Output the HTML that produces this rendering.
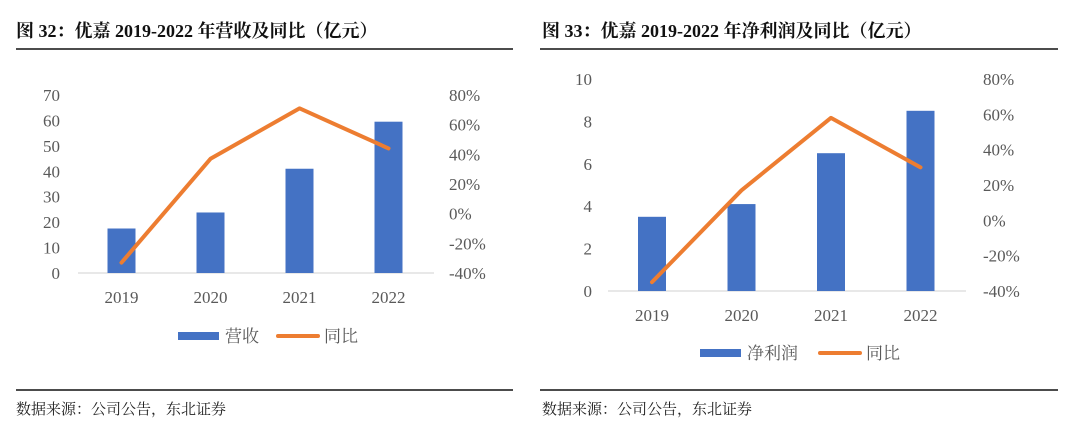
<!DOCTYPE html>
<html><head><meta charset="utf-8"><style>
body{margin:0;background:#fff;width:1080px;height:437px;overflow:hidden;font-family:"Liberation Serif","Noto Serif CJK SC",serif;}
svg text{font-family:"Liberation Serif","Noto Serif CJK SC",serif;}
</style></head><body>
<svg id="svg" width="1080" height="437" xmlns="http://www.w3.org/2000/svg">
<text x="16" y="37" font-size="18" font-weight="bold" fill="#111">图 32：优嘉 2019-2022 年营收及同比（亿元）</text>
<line x1="16" y1="49" x2="513" y2="49" stroke="#111" stroke-width="1.5"/>
<line x1="16" y1="390" x2="513" y2="390" stroke="#111" stroke-width="1.5"/>
<text x="16" y="414" font-size="15" fill="#222">数据来源：公司公告，东北证券</text>
<text x="542" y="37" font-size="18" font-weight="bold" fill="#111">图 33：优嘉 2019-2022 年净利润及同比（亿元）</text>
<line x1="540" y1="49" x2="1058" y2="49" stroke="#111" stroke-width="1.5"/>
<line x1="540" y1="390" x2="1058" y2="390" stroke="#111" stroke-width="1.5"/>
<text x="542" y="414" font-size="15" fill="#222">数据来源：公司公告，东北证券</text>
<g id="c1"></g>
<g id="c2"></g>
</svg>
<script>
const categories = ["2019","2020","2021","2022"];
const revenueValues = [17.5, 23.8, 41, 59.5];
const revenueYoy = [-33, 37, 71, 44];
const revenueTicks = [0,10,20,30,40,50,60,70];
const profitValues = [3.5, 4.1, 6.5, 8.5];
const profitYoy = [-35, 17, 58, 30];
const profitTicks = [0,2,4,6,8,10];
const pctTicks = [-40,-20,0,20,40,60,80];

const NS="http://www.w3.org/2000/svg";
function mk(parent,tag,attrs,txt){const e=document.createElementNS(NS,tag);for(const k in attrs)e.setAttribute(k,attrs[k]);if(txt!==undefined)e.textContent=txt;parent.appendChild(e);return e;}

function draw(g,cfg,vals,yoy,ticks,barName){
  const yMax=ticks[ticks.length-1];
  const y=v=>cfg.base-(v/yMax)*(cfg.base-cfg.top);
  const yp=p=>cfg.base-((p+40)/120)*(cfg.base-cfg.top);
  const x=i=>cfg.x0+i*cfg.step;
  let ax=mk(g,'line',{x1:cfg.axL,y1:cfg.base,x2:cfg.axR,y2:cfg.base,stroke:'#d9d9d9','stroke-width':1.2});
  
  ticks.forEach(t=>{const e=mk(g,'text',{x:cfg.lx,y:y(t)+6,'font-size':17,fill:'#595959','text-anchor':'end'},t);
    });
  pctTicks.forEach(t=>{const e=mk(g,'text',{x:cfg.rx,y:yp(t)+6,'font-size':17,fill:'#595959'},t+'%');
    });
  categories.forEach((c,i)=>{const e=mk(g,'text',{x:x(i),y:cfg.base+30,'font-size':17,fill:'#595959','text-anchor':'middle'},c);
    });
  vals.forEach((v,i)=>{const b=mk(g,'rect',{x:x(i)-14,y:y(v),width:28,height:cfg.base-y(v),fill:'#4472c4'});
    });
  const pts=yoy.map((p,i)=>x(i)+','+yp(p)).join(' ');
  const l=mk(g,'polyline',{points:pts,fill:'none',stroke:'#ed7d31','stroke-width':4,'stroke-linejoin':'round','stroke-linecap':'round'});
  
  const lr=mk(g,'rect',{x:cfg.lgx,y:cfg.lgy-4,width:41,height:8,fill:'#4472c4'});
  
  const lt=mk(g,'text',{x:cfg.lgx+47,y:cfg.lgy+6,'font-size':17,fill:'#595959'},barName);
  
  const lx2=cfg.lgx+cfg.lgGap;
  const ll=mk(g,'line',{x1:lx2,y1:cfg.lgy,x2:lx2+40,y2:cfg.lgy,stroke:'#ed7d31','stroke-width':4,'stroke-linecap':'round'});
  
  const lt2=mk(g,'text',{x:lx2+46,y:cfg.lgy+6,'font-size':17,fill:'#595959'},'同比');
  
}
draw(document.getElementById('c1'),{base:273,top:95,x0:121.5,step:89,axL:78,axR:434,lx:60,rx:449,lgx:178,lgy:336,lgGap:100},revenueValues,revenueYoy,revenueTicks,'营收');
draw(document.getElementById('c2'),{base:291,top:79,x0:652,step:89.5,axL:608,axR:966,lx:592,rx:983,lgx:700,lgy:353,lgGap:120},profitValues,profitYoy,profitTicks,'净利润');
</script>
</body></html>
